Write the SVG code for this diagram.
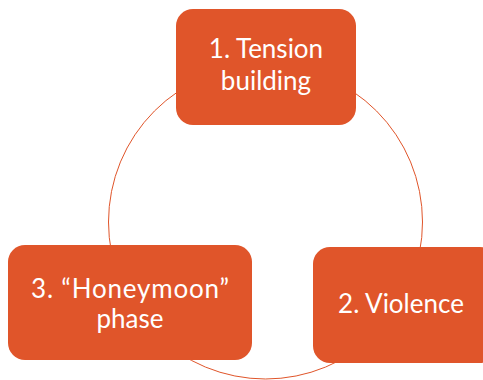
<svg xmlns="http://www.w3.org/2000/svg" width="483" height="380" viewBox="0 0 483 380">
  <style>
    .box { fill: #E0552A; }
    .label { fill: #FFFFFF; font-family: Lato, "Open Sans", "Noto Sans", sans-serif; font-size: 26px; text-anchor: middle; }
    .cycle { fill: none; stroke: #E0552A; stroke-width: 1; }
  </style>
  <rect width="483" height="380" fill="#FFFFFF"/>
  <!-- cycle ring drawn behind the three stages -->
  <g id="connectors">
    <circle class="cycle" cx="265.5" cy="222" r="157"/>
  </g>
  <g id="node-tension">
    <rect class="box" x="176" y="9" width="180" height="116" rx="17"/>
    <text class="label"><tspan x="266" y="58">1. Tension</tspan><tspan x="266" y="90">building</tspan></text>
  </g>
  <g id="node-violence">
    <rect class="box" x="313" y="247" width="184" height="116" rx="17"/>
    <text class="label" x="401" y="313">2. Violence</text>
  </g>
  <g id="node-honeymoon">
    <rect class="box" x="8" y="245" width="244" height="115" rx="17"/>
    <text class="label" x="130" y="298" textLength="198" lengthAdjust="spacing">3. “Honeymoon”</text>
    <text class="label" x="130" y="328">phase</text>
  </g>
</svg>
